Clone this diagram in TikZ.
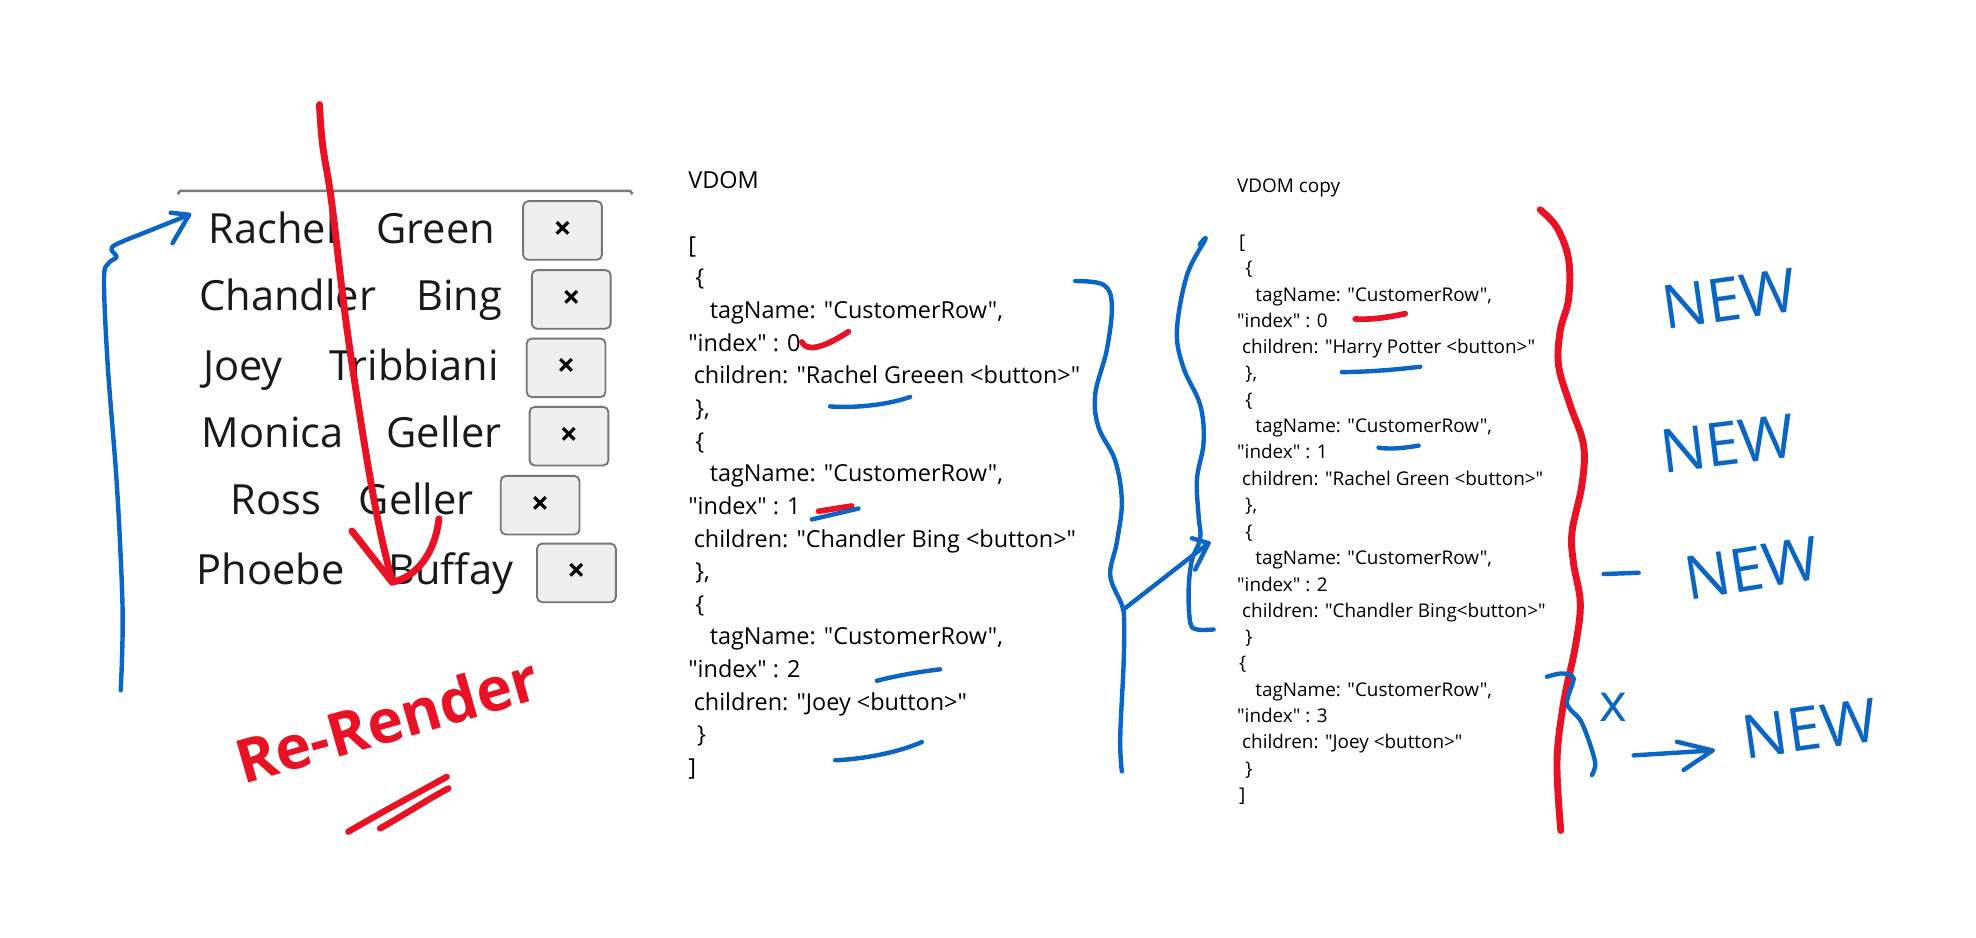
\documentclass[tikz,border=0pt]{standalone}
\usepackage{fontspec}
\setmainfont{Open Sans}[Ligatures=TeXOff]
\definecolor{inkred}{HTML}{E81224}
\definecolor{inkblue}{HTML}{0A66C2}
\definecolor{btnfill}{HTML}{EFEFEF}
\definecolor{btnline}{HTML}{767676}
\definecolor{rulegray}{HTML}{7A7A7A}
\begin{document}
\begin{tikzpicture}[x=1pt,y=-1pt,
  person/.style={anchor=base west, inner sep=0pt, font=\fontsize{33}{40}\selectfont, text=black!90},
  btn/.style={draw=btnline, fill=btnfill, line width=1.5pt, rounded corners=4pt, inner sep=0pt,
              minimum width=62.5pt, minimum height=46.5pt, font=\bfseries\fontsize{25}{25}\selectfont},
  vd/.style={anchor=base west, inner sep=0pt, font=\fontsize{18.6}{22}\selectfont},
  vc/.style={anchor=base west, inner sep=0pt, font=\fontsize{15}{18}\selectfont},
  redink/.style={draw=inkred, line width=5.5pt, line cap=round, line join=round},
  blueink/.style={draw=inkblue, line width=3.5pt, line cap=round, line join=round},
  newtxt/.style={text=inkblue, font=\fontsize{48}{50}\selectfont, inner sep=0pt}]
\useasboundingbox (0,0) rectangle (1568,744);
\fill[white] (0,0) rectangle (1568,744);

% ---------- left: rendered list ----------
\draw[rulegray, line width=2pt] (141,154) -- (143,151.5) -- (500,151.5) -- (502,154);

\node[person] (f1) at (165.5,193) {Rachel};
\node[person] (l1) at (298.5,193) {Green};
\node[btn] (b1) at (446.4,182.9) {×};
\node[person] (f2) at (158,246) {Chandler};
\node[person] (l2) at (330,246) {Bing};
\node[btn] (b2) at (453.3,237.6) {×};
\node[person] (f3) at (161,301.6) {Joey};
\node[person] (l3) at (261.5,301.6) {Tribbiani};
\node[btn] (b3) at (449.2,291.9) {×};
\node[person] (f4) at (160,355) {Monica};
\node[person] (l4) at (306.5,355) {Geller};
\node[btn] (b4) at (451.5,346.1) {×};
\node[person] (f5) at (183,408.4) {Ross};
\node[person] (l5) at (284.5,408.4) {Geller};
\node[btn] (b5) at (428.6,400.9) {×};
\node[person] (f6) at (156,463.5) {Phoebe};
\node[person] (l6) at (308,463.5) {Buffay};
\node[btn] (b6) at (457.4,454.6) {×};

% red re-render arrow
\draw[redink] plot[smooth, tension=0.6] coordinates
  {(253.5,83) (256,115) (263.2,160.7) (274.9,257.8) (289.6,355) (301.3,419.8) (311.2,461)};
\draw[redink] (279.3,421.4) -- (311.2,462) .. controls (330,458) and (345,440) .. (348.3,411.7);

% blue arrow on the left
\draw[blueink] plot[smooth, tension=0.55] coordinates
  {(95.8,547.7) (97.3,484.6) (92.9,387.4) (85.5,290.2) (82.5,222) (86,209) (92.5,204) (88.5,198) (93,193.5) (120,182.5) (150,170.5)};
\draw[blueink] (135.4,168.8) -- (150.1,170.4) -- (136.9,193);

% Re-Render
\node[text=inkred, font=\bfseries\fontsize{48}{50}\selectfont, rotate=16, inner sep=0pt] (rr) at (307,571) {Re-Render};
\draw[redink, line width=5pt] (276.4,660) .. controls (300,646) and (330,630) .. (354.5,616.4);
\draw[redink, line width=5pt] (301.6,657.4) .. controls (320,647) and (340,634) .. (355.8,625.6);

% ---------- middle: VDOM ----------
\node[vd] (vdt) at (546,149.5) {VDOM};
\node[vd] (v1) at (546,201) {[};
\node[vd] (v2) at (551.5,226.9) {\{};
\node[vd] (v3) at (563,252.8) {tagName: "CustomerRow",};
\node[vd] (v4) at (546,278.7) {"index" : 0};
\node[vd] (v5) at (550.3,304.6) {children: "Rachel Greeen <button>"};
\node[vd] (v6) at (551.5,330.5) {\},};
\node[vd] (v7) at (551.5,356.4) {\{};
\node[vd] (v8) at (563,382.3) {tagName: "CustomerRow",};
\node[vd] (v9) at (546,408.2) {"index" : 1};
\node[vd] (v10) at (550.3,434.1) {children: "Chandler Bing <button>"};
\node[vd] (v11) at (551.5,460) {\},};
\node[vd] (v12) at (551.5,485.9) {\{};
\node[vd] (v13) at (563,511.8) {tagName: "CustomerRow",};
\node[vd] (v14) at (546,537.7) {"index" : 2};
\node[vd] (v15) at (550.3,563.6) {children: "Joey <button>"};
\node[vd] (v16) at (553,589.5) {\}};
\node[vd] (v17) at (546,615.4) {]};

% marks on VDOM
\draw[redink, line width=4.5pt] (636.2,271.3) .. controls (640,279) and (652,277) .. (673.3,263.2);
\draw[blueink] (658.7,322.5) .. controls (680,324) and (705,321) .. (722.2,315);
\draw[redink, line width=4.5pt] (649.5,405.7) -- (675.9,401.5);
\draw[blueink] (644.2,412.2) -- (681.2,403.5);
\draw[blueink] (695.8,540.2) .. controls (712,536) and (730,533) .. (746,531.1);
\draw[blueink] (662.7,603.3) .. controls (690,602) and (715,596) .. (731.5,588.8);

% blue brace right of VDOM
\draw[blueink] plot[smooth, tension=0.6] coordinates
  {(853.2,223) (875.7,226) (882.3,242.1) (878.3,277.4) (869.1,312.6) (871.7,339) (884.9,365.4) (890.2,397.7) (886.3,430) (881,456.5) (890.2,480) (892,492) (891.6,527) (888.9,585.6) (890.2,612.1)};
% arrow to copy
\coordinate (junc) at (891,484);
\coordinate (tipc) at (959,431);
\draw[blueink] (junc) -- (tipc);
\draw[blueink] (945.8,427.1) -- (tipc) -- (948.4,452);

% blue brace left of copy
\draw[blueink] plot[smooth, tension=0.6] coordinates
  {(952,194) (956.4,190) (941.8,218.6) (933.9,262.7) (939.2,292) (952.4,321.4) (955.1,350.8) (949.8,380.1) (951.1,409.5) (952.4,427.1) (945.8,444.7) (943.2,468.2) (944.5,494) (950,499.5) (963,499.5)};

% ---------- VDOM copy ----------
\node[vc] (ct) at (981.5,152.7) {VDOM copy};
\node[vc] (c1) at (983,197) {[};
\node[vc] (c2) at (988,218) {\{};
\node[vc] (c3) at (996,239) {tagName: "CustomerRow",};
\node[vc] (c4) at (981.5,260) {"index" : 0};
\node[vc] (c5) at (985.5,280.6) {children: "Harry Potter <button>"};
\node[vc] (c6) at (988,301.5) {\},};
\node[vc] (c7) at (988,322.4) {\{};
\node[vc] (c8) at (996,343.3) {tagName: "CustomerRow",};
\node[vc] (c9) at (981.5,364.2) {"index" : 1};
\node[vc] (c10) at (985.5,385) {children: "Rachel Green <button>"};
\node[vc] (c11) at (988,406) {\},};
\node[vc] (c12) at (988,427) {\{};
\node[vc] (c13) at (996,448) {tagName: "CustomerRow",};
\node[vc] (c14) at (981.5,469) {"index" : 2};
\node[vc] (c15) at (985.5,489.6) {children: "Chandler Bing<button>"};
\node[vc] (c16) at (988,510.5) {\}};
\node[vc] (c17) at (983,531.4) {\{};
\node[vc] (c18) at (996,552.3) {tagName: "CustomerRow",};
\node[vc] (c19) at (981.5,573.2) {"index" : 3};
\node[vc] (c20) at (985.5,594) {children: "Joey <button>"};
\node[vc] (c21) at (988,615) {\}};
\node[vc] (c22) at (983,636) {]};

% marks on copy
\draw[redink, line width=4.5pt] (1075.4,253.1) .. controls (1090,254) and (1105,251) .. (1115.1,248.9);
\draw[blueink] (1064.8,295.3) .. controls (1090,295) and (1110,293) .. (1127,291);
\draw[blueink] (1093.9,355.2) .. controls (1105,357) and (1117,355) .. (1125.7,353.6);

% red brace
\draw[redink] plot[smooth, tension=0.6] coordinates
  {(1222.2,166.5) (1235.5,180.7) (1244.7,205.8) (1244.7,237.2) (1238.1,262.3) (1236.8,290.5) (1246.1,321.9) (1256.6,353.3) (1255.3,384.6) (1247.4,422.3) (1248.7,447.4) (1254,478.8) (1250,513.3) (1240.8,557.2) (1235.5,604.3) (1238.5,659)};

% NEW labels
\node[newtxt, rotate=8] (n1) at (1372,237) {NEW};
\node[newtxt, rotate=7] (n2) at (1371,352) {NEW};
\draw[blueink] (1272.5,455.5) -- (1300.3,454.5);
\node[newtxt, rotate=9] (n3) at (1390,451) {NEW};
\node[newtxt, rotate=8] (n4) at (1436,578) {NEW};

% }x -> NEW
\draw[blueink] plot[smooth, tension=0.5] coordinates
  {(1227.5,537) (1239.4,534.4) (1248.7,538.3) (1243.4,558.2) (1254,571.4) (1260.6,587.3) (1265.9,605.8) (1263.2,615)};
\node[text=inkblue, font=\fontsize{42}{44}\selectfont, inner sep=0pt] (xm) at (1280,561) {x};
\coordinate (a4s) at (1296.3,599.4);
\coordinate (a4t) at (1359,595.5);
\draw[blueink] (a4s) -- (a4t);
\draw[blueink] (1330.7,588.6) -- (a4t) -- (1336,611);
\end{tikzpicture}
\end{document}
